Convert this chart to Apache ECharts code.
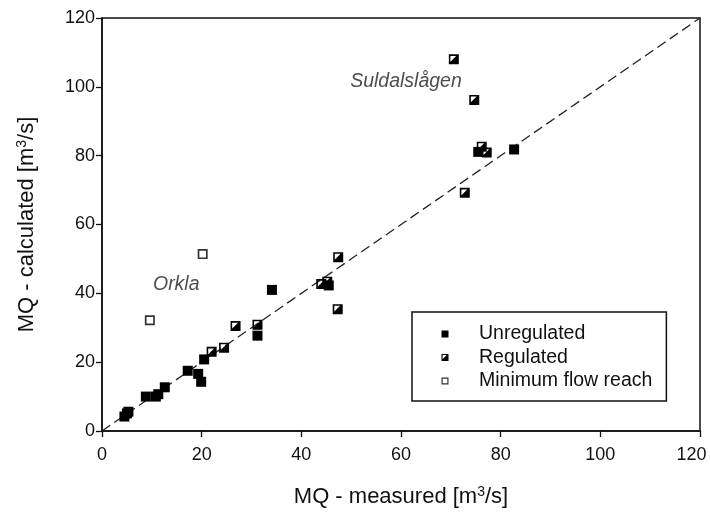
<!DOCTYPE html>
<html>
<head>
<meta charset="utf-8">
<script src="https://cdn.jsdelivr.net/npm/echarts@6/dist/echarts.min.js"></script>
<style>html,body{margin:0;padding:0;background:#fff;}#c{width:710px;height:515px;}</style>
</head>
<body>
<div id="c"></div>
<script>
// Data
var unregulated = [
  [4.5,4.2],[5.0,5.1],[5.3,5.6],[8.8,10.0],[10.8,10.0],[11.3,10.7],[12.6,12.7],
  [17.2,17.5],[19.3,16.6],[19.9,14.3],[20.5,20.8],[31.2,27.7],[34.1,41.0],
  [45.5,42.3],[75.5,81.1],[82.7,81.8]
];
var regulated = [
  [22.0,23.0],[24.5,24.2],[26.8,30.5],[31.2,30.9],[44.0,42.7],[45.2,43.4],
  [47.3,35.4],[47.4,50.5],[70.6,108.0],[72.8,69.2],[74.7,96.2],[76.2,82.6],[77.2,80.9]
];
var minFlow = [[9.6,32.2],[20.2,51.4]];
var oneToOne = [[0,0],[120,120]];
var annotations = [
  {name:'Orkla', value:[14.9,42.5], align:'center'},
  {name:'Suldalslågen', value:[72.2,101.4], align:'right'}
];
var axisTicks = {min:0, max:120, interval:20};
var seriesNames = ['Unregulated','Regulated','Minimum flow reach'];

var FONT = '"Liberation Sans", Arial, sans-serif';
var P_FILL = 'path://M0,0H10V10H0Z';
var P_REG = 'path://M0,0H10V10H0Z M1.6,1.6V7.4L7.4,1.6Z';
var P_OPEN = 'path://M0,0H10V10H0Z M1.7,1.7V8.3H8.3V1.7Z';

var nameRich = {
  a:{fontSize:22, fontFamily:FONT, color:'#111', lineHeight:26},
  s:{fontSize:14, fontFamily:FONT, color:'#111', lineHeight:26, padding:[0,0,10,0]}
};

var chart = echarts.init(document.getElementById('c'));
chart.setOption({
  animation:false,
  backgroundColor:'#fff',
  grid:{left:102, right:10, top:18, bottom:84, containLabel:false, outerBoundsMode:'none',
        show:true, borderColor:'#111', borderWidth:1.5},
  xAxis:{
    type:'value', min:axisTicks.min, max:axisTicks.max, interval:axisTicks.interval,
    name:'{a|MQ - measured [m}{s|3}{a|/s]}', nameLocation:'middle', nameGap:53,
    nameTextStyle:{rich:nameRich},
    axisLine:{lineStyle:{color:'#111', width:1.5}},
    axisTick:{inside:false, length:6, lineStyle:{color:'#111', width:1.3}},
    axisLabel:{margin:15, fontSize:18, fontFamily:FONT, color:'#111',
      formatter:function(v){ return v === axisTicks.max ? '{e|' + v + '}' : String(v); },
      rich:{e:{fontSize:18, fontFamily:FONT, color:'#111', padding:[0,17,0,0]}}},
    splitLine:{show:false}
  },
  yAxis:{
    type:'value', min:axisTicks.min, max:axisTicks.max, interval:axisTicks.interval,
    name:'{a|MQ - calculated [m}{s|3}{a|/s]}', nameLocation:'middle', nameGap:62,
    nameTextStyle:{rich:nameRich},
    axisLine:{lineStyle:{color:'#111', width:1.5}},
    axisTick:{inside:false, length:6, lineStyle:{color:'#111', width:1.3}},
    axisLabel:{margin:7, fontSize:18, fontFamily:FONT, color:'#111'},
    splitLine:{show:false}
  },
  legend:{
    orient:'vertical', left:412, top:312,
    data:[
      {name:seriesNames[0], icon:P_FILL},
      {name:seriesNames[1], icon:P_REG},
      {name:seriesNames[2], icon:P_OPEN}
    ],
    itemWidth:7, itemHeight:7, itemGap:3.5,
    padding:[12,14,10,29.5],
    borderColor:'#111', borderWidth:1.5,
    textStyle:{fontSize:19.5, fontFamily:FONT, color:'#111', lineHeight:20, padding:[0,0,0,25.5]},
    selectedMode:false
  },
  series:[
    {
      type:'line', name:'1:1', data:oneToOne, symbol:'none', silent:true,
      lineStyle:{color:'#222', width:1.3, type:[10,5]}, z:1
    },
    {
      type:'scatter', name:seriesNames[2], data:minFlow, symbol:P_OPEN, symbolSize:10,
      itemStyle:{color:'#333', opacity:1}, z:3
    },
    {
      type:'scatter', name:seriesNames[0], data:unregulated, symbol:P_FILL, symbolSize:10,
      itemStyle:{color:'#000', opacity:1}, z:3
    },
    {
      type:'scatter', name:seriesNames[1], data:regulated, symbol:P_REG, symbolSize:10,
      itemStyle:{color:'#000', opacity:1}, z:4
    },
    {
      type:'scatter', name:'labels', silent:true, symbolSize:0, z:5,
      data:annotations.map(function(a){
        return {value:a.value, label:{show:true, formatter:a.name, position:'inside', align:a.align,
          verticalAlign:'middle', fontSize:19.5, fontStyle:'italic', fontFamily:FONT, color:'#222'}};
      })
    }
  ]
});
</script>
</body>
</html>
